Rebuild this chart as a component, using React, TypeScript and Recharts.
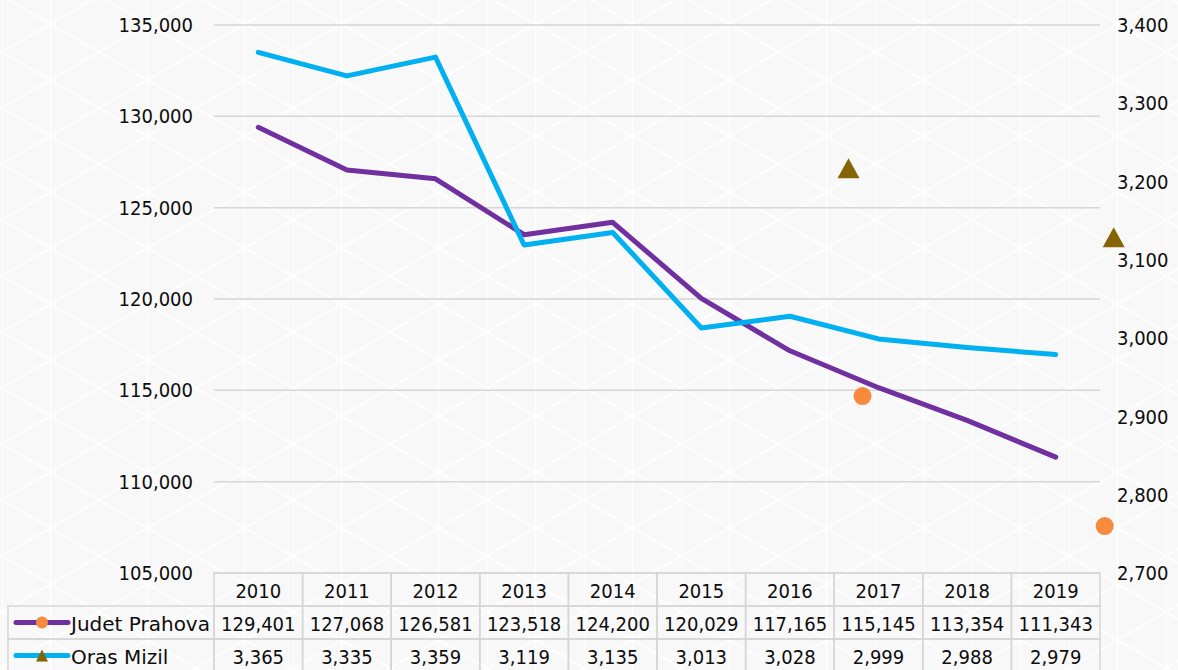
import React from 'react';
import { LineChart, Line, XAxis, YAxis, CartesianGrid, ReferenceDot } from 'recharts';

const years = ['2010', '2011', '2012', '2013', '2014', '2015', '2016', '2017', '2018', '2019'];
const prahova = [129401, 127068, 126581, 123518, 124200, 120029, 117165, 115145, 113354, 111343];
const mizil = [3365, 3335, 3359, 3119, 3135, 3013, 3028, 2999, 2988, 2979];
const seriesNames = ['Judet Prahova', 'Oras Mizil'];

const leftTicks = [105000, 110000, 115000, 120000, 125000, 130000, 135000];
const rightTicks = [2700, 2800, 2900, 3000, 3100, 3200, 3300, 3400];

// stray marker glyphs that float around the plot (values on the right axis)
const strayYears = ['2017', '2019', '2017', '2019'];
const strayValues = [2926, 2760, 3217, 3129];
const strayKinds = ['circle', 'circle', 'triangle', 'triangle'];

const data = years.map((year, i) => ({ year, prahova: prahova[i], mizil: mizil[i] }));

const W = 1178;
const H = 670;
const PLOT_LEFT = 214;
const PLOT_RIGHT = 1100;
const COL_W = (PLOT_RIGHT - PLOT_LEFT) / years.length;
const ROW_H = 33;
const FS = 20;
const FONT = '"DejaVu Sans Condensed", "DejaVu Sans", sans-serif';
const LEGEND_FONT = '"DejaVu Sans", sans-serif';
const PURPLE = '#7030a0';
const CYAN = '#00b0f0';
const ORANGE = '#f78a3c';
const OLIVE = '#846404';
const BORDER = '#d6d6d6';
const TEXT = '#0d0d0d';

const fmt = (v: number) => v.toLocaleString('en-US');
// horizontal nudge of the stray glyphs away from their category centre
const strayShift = [-16, 49, -30, 58];

const markerFor = [
  (cx: number, cy: number) => <circle cx={cx} cy={cy} r={6} fill={ORANGE} />,
  (cx: number, cy: number) => <polygon points={`${cx - 6},${cy + 6} ${cx + 6},${cy + 6} ${cx},${cy - 6}`} fill={OLIVE} />,
];
const seriesColors = [PURPLE, CYAN];
const seriesValues = [prahova, mizil];

const TableTick = (props: any) => {
  const { x, y, payload, index } = props;
  const i = typeof index === 'number' ? index : years.indexOf(payload.value);
  const half = COL_W / 2;
  const top = y;
  return (
    <g>
      <rect x={x - half} y={top} width={COL_W} height={ROW_H} fill="none" stroke={BORDER} strokeWidth={1.5} />
      <text x={x} y={top + ROW_H / 2 + 1} textAnchor="middle" dominantBaseline="central" fontSize={FS} fill={TEXT}>
        {payload.value}
      </text>
      {seriesValues.map((vals, r) => (
        <g key={r}>
          <rect x={x - half} y={top + ROW_H * (r + 1)} width={COL_W} height={ROW_H} fill="none" stroke={BORDER} strokeWidth={1.5} />
          <text x={x} y={top + ROW_H * (r + 1) + ROW_H / 2 + 1} textAnchor="middle" dominantBaseline="central" fontSize={FS} fill={TEXT}>
            {fmt(vals[i])}
          </text>
        </g>
      ))}
      {i === 0 &&
        seriesNames.map((name, r) => {
          const cy = top + ROW_H * (r + 1) + ROW_H / 2;
          return (
            <g key={name}>
              <rect x={8} y={top + ROW_H * (r + 1)} width={x - half - 8} height={ROW_H} fill="none" stroke={BORDER} strokeWidth={1.5} />
              <line x1={16} x2={68} y1={cy} y2={cy} stroke={seriesColors[r]} strokeWidth={5} strokeLinecap="round" />
              {markerFor[r](42, cy)}
              <text x={71} y={cy + 1} dominantBaseline="central" fontSize={FS} fontFamily={LEGEND_FONT} fill={TEXT}>
                {name}
              </text>
            </g>
          );
        })}
    </g>
  );
};

const strayShape = (k: number) => (p: any) => {
  const cx = p.cx + strayShift[k];
  const cy = p.cy;
  if (strayKinds[k] === 'circle') return <circle cx={cx} cy={cy} r={9} fill={ORANGE} />;
  return <polygon points={`${cx - 11},${cy + 10} ${cx + 11},${cy + 10} ${cx},${cy - 10}`} fill={OLIVE} />;
};

const Background = () => {
  const w = 48.5;
  const s = (2 * w) / Math.sqrt(3);
  return (
    <svg width={W} height={H} style={{ position: 'absolute', left: 0, top: 0 }}>
      <defs>
        <pattern id="tri" width={2 * w} height={s} patternUnits="userSpaceOnUse" x={2} y={-4}>
          <rect width={2 * w} height={s} fill="#f8f8f8" />
          <g stroke="#ffffff" strokeWidth={1.8}>
            <line x1={0} y1={0} x2={0} y2={s} />
            <line x1={w} y1={0} x2={w} y2={s} />
            <line x1={0} y1={0} x2={2 * w} y2={s} />
            <line x1={0} y1={s} x2={2 * w} y2={0} />
          </g>
        </pattern>
      </defs>
      <rect width={W} height={H} fill="url(#tri)" />
    </svg>
  );
};

export default function App() {
  return (
    <div style={{ position: 'absolute', left: 0, top: 0, width: W, height: H, overflow: 'hidden', fontFamily: FONT }}>
      <Background />
      <div style={{ position: 'absolute', left: 0, top: 0 }}>
        <LineChart width={W} height={H} data={data} margin={{ top: 25, right: 0, bottom: 0, left: 0 }}>
          <CartesianGrid yAxisId="left" vertical={false} stroke={BORDER} strokeWidth={1.5} />
          <XAxis
            dataKey="year"
            type="category"
            height={H - 573}
            padding={{ left: COL_W / 2, right: COL_W / 2 }}
            axisLine={false}
            tickLine={false}
            tickSize={0}
            tickMargin={0}
            interval={0}
            tick={<TableTick />}
          />
          <YAxis
            yAxisId="left"
            orientation="left"
            width={PLOT_LEFT}
            domain={[105000, 135000]}
            ticks={leftTicks}
            tickFormatter={fmt}
            axisLine={false}
            tickLine={false}
            tickSize={0}
            tickMargin={21}
            tick={{ fontSize: FS, fill: TEXT }}
          />
          <YAxis
            yAxisId="right"
            orientation="right"
            width={W - PLOT_RIGHT}
            domain={[2700, 3400]}
            ticks={rightTicks}
            tickFormatter={fmt}
            axisLine={false}
            tickLine={false}
            tickSize={0}
            tickMargin={17}
            tick={{ fontSize: FS, fill: TEXT, textAnchor: 'start' }}
          />
          <Line
            yAxisId="left"
            dataKey="prahova"
            name={seriesNames[0]}
            type="linear"
            stroke={PURPLE}
            strokeWidth={5}
            strokeLinecap="round"
            strokeLinejoin="round"
            dot={false}
            activeDot={false}
            isAnimationActive={false}
          />
          <Line
            yAxisId="right"
            dataKey="mizil"
            name={seriesNames[1]}
            type="linear"
            stroke={CYAN}
            strokeWidth={5}
            strokeLinecap="round"
            strokeLinejoin="round"
            dot={false}
            activeDot={false}
            isAnimationActive={false}
          />
          {strayYears.map((yr, k) => (
            <ReferenceDot key={k} yAxisId="right" x={yr} y={strayValues[k]} ifOverflow="visible" shape={strayShape(k)} />
          ))}
        </LineChart>
      </div>
    </div>
  );
}
